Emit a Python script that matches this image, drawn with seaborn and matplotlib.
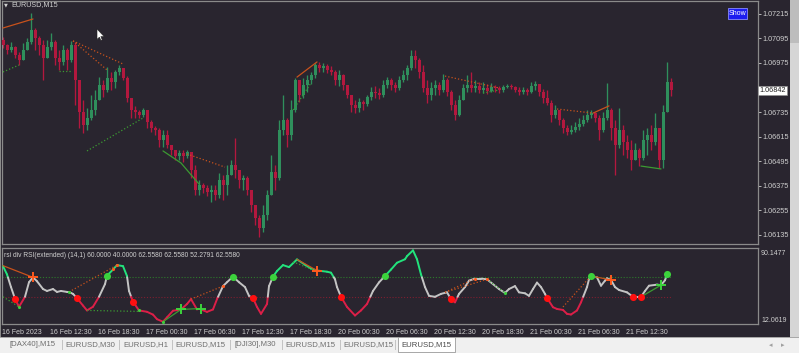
import numpy as np
import pandas as pd
import matplotlib
matplotlib.use("Agg")
import matplotlib.pyplot as plt
import seaborn as sns
from matplotlib.collections import LineCollection
from matplotlib.patches import Rectangle, Polygon
import matplotlib.transforms as mtransforms

# ---------------- data ----------------
symbol_title = "EURUSD,M15"
indicator_title = "rsi div RSI(extended) (14,1) 60.0000 40.0000 62.5580 62.5580 52.2791 62.5580"

first_open = 1.07087
closes = [1.07063, 1.07038, 1.07053, 1.07014, 1.06990, 1.07038, 1.07078, 1.07136, 1.07097, 1.07063,
          1.06999, 1.07053, 1.07078, 1.06999, 1.06980, 1.07038, 1.06990, 1.07063, 1.06892, 1.06735,
          1.06672, 1.06706, 1.06745, 1.06794, 1.06867, 1.06843, 1.06902, 1.06882, 1.06931, 1.06950,
          1.06902, 1.06804, 1.06745, 1.06735, 1.06721, 1.06745, 1.06686, 1.06657, 1.06647, 1.06598,
          1.06623, 1.06574, 1.06549, 1.06520, 1.06535, 1.06520, 1.06540, 1.06452, 1.06354, 1.06378,
          1.06364, 1.06344, 1.06354, 1.06329, 1.06403, 1.06378, 1.06427, 1.06476, 1.06452, 1.06403,
          1.06413, 1.06354, 1.06281, 1.06217, 1.06168, 1.06232, 1.06329, 1.06442, 1.06413, 1.06647,
          1.06696, 1.06623, 1.06745, 1.06892, 1.06818, 1.06867, 1.06892, 1.06916, 1.06965, 1.06950,
          1.06960, 1.06941, 1.06931, 1.06892, 1.06916, 1.06867, 1.06818, 1.06770, 1.06755, 1.06784,
          1.06774, 1.06809, 1.06833, 1.06828, 1.06818, 1.06867, 1.06892, 1.06867, 1.06853, 1.06892,
          1.06916, 1.06950, 1.07009, 1.06990, 1.06931, 1.06853, 1.06818, 1.06853, 1.06867, 1.06843,
          1.06892, 1.06833, 1.06770, 1.06721, 1.06794, 1.06853, 1.06867, 1.06853, 1.06862, 1.06843,
          1.06853, 1.06838, 1.06858, 1.06853, 1.06843, 1.06858, 1.06862, 1.06858, 1.06843, 1.06833,
          1.06843, 1.06833, 1.06862, 1.06872, 1.06833, 1.06804, 1.06779, 1.06721, 1.06745, 1.06696,
          1.06657, 1.06638, 1.06647, 1.06662, 1.06677, 1.06696, 1.06721, 1.06730, 1.06706, 1.06647,
          1.06706, 1.06745, 1.06657, 1.06574, 1.06647, 1.06589, 1.06549, 1.06501, 1.06549, 1.06510,
          1.06598, 1.06623, 1.06589, 1.06657, 1.06501, 1.06735, 1.06882, 1.06842]
highs = [1.07102, 1.07068, 1.07078, 1.07058, 1.07029, 1.07073, 1.07097, 1.07219, 1.07146, 1.07107,
         1.07087, 1.07087, 1.07122, 1.07087, 1.07038, 1.07063, 1.07048, 1.07083, 1.07078, 1.06892,
         1.06794, 1.06755, 1.06818, 1.06843, 1.06906, 1.06892, 1.06955, 1.06931, 1.06941, 1.06965,
         1.06950, 1.06911, 1.06770, 1.06765, 1.06745, 1.06755, 1.06735, 1.06696, 1.06667, 1.06657,
         1.06647, 1.06647, 1.06574, 1.06549, 1.06549, 1.06549, 1.06549, 1.06525, 1.06476, 1.06403,
         1.06388, 1.06378, 1.06378, 1.06378, 1.06437, 1.06427, 1.06476, 1.06501, 1.06608, 1.06452,
         1.06427, 1.06422, 1.06354, 1.06281, 1.06232, 1.06281, 1.06354, 1.06525, 1.06476, 1.06696,
         1.06818, 1.06706, 1.06794, 1.06902, 1.06892, 1.06902, 1.06916, 1.06931, 1.06975, 1.06980,
         1.06975, 1.06970, 1.06960, 1.06941, 1.06941, 1.06921, 1.06867, 1.06818, 1.06794, 1.06804,
         1.06794, 1.06818, 1.06858, 1.06862, 1.06853, 1.06892, 1.06906, 1.06902, 1.06882, 1.06911,
         1.06941, 1.06965, 1.07038, 1.07038, 1.06999, 1.06965, 1.06892, 1.06882, 1.06892, 1.06882,
         1.06921, 1.06902, 1.06843, 1.06794, 1.06818, 1.06872, 1.06916, 1.06931, 1.06892, 1.06882,
         1.06882, 1.06872, 1.06877, 1.06867, 1.06862, 1.06867, 1.06872, 1.06872, 1.06862, 1.06858,
         1.06858, 1.06853, 1.06882, 1.06887, 1.06872, 1.06848, 1.06843, 1.06794, 1.06770, 1.06745,
         1.06706, 1.06672, 1.06672, 1.06686, 1.06706, 1.06721, 1.06745, 1.06745, 1.06735, 1.06721,
         1.06735, 1.06877, 1.06755, 1.06696, 1.06755, 1.06672, 1.06623, 1.06598, 1.06584, 1.06559,
         1.06647, 1.06657, 1.06672, 1.06730, 1.06647, 1.06770, 1.06980, 1.06902]
lows = [1.07048, 1.07019, 1.07029, 1.06999, 1.06965, 1.06990, 1.07038, 1.07068, 1.07038, 1.07014,
        1.06892, 1.06999, 1.07038, 1.06965, 1.06941, 1.06965, 1.06941, 1.06980, 1.06770, 1.06657,
        1.06633, 1.06647, 1.06696, 1.06721, 1.06794, 1.06809, 1.06833, 1.06843, 1.06853, 1.06916,
        1.06892, 1.06784, 1.06706, 1.06706, 1.06706, 1.06711, 1.06657, 1.06638, 1.06623, 1.06564,
        1.06564, 1.06559, 1.06525, 1.06501, 1.06501, 1.06491, 1.06510, 1.06413, 1.06329, 1.06329,
        1.06339, 1.06325, 1.06295, 1.06305, 1.06315, 1.06305, 1.06329, 1.06427, 1.06413, 1.06364,
        1.06354, 1.06329, 1.06246, 1.06183, 1.06124, 1.06149, 1.06207, 1.06329, 1.06354, 1.06403,
        1.06623, 1.06564, 1.06598, 1.06735, 1.06784, 1.06804, 1.06833, 1.06872, 1.06902, 1.06931,
        1.06931, 1.06926, 1.06916, 1.06867, 1.06862, 1.06843, 1.06804, 1.06735, 1.06730, 1.06735,
        1.06745, 1.06765, 1.06794, 1.06804, 1.06799, 1.06809, 1.06853, 1.06843, 1.06833, 1.06843,
        1.06882, 1.06892, 1.06941, 1.06950, 1.06902, 1.06833, 1.06779, 1.06794, 1.06818, 1.06818,
        1.06833, 1.06814, 1.06745, 1.06696, 1.06716, 1.06794, 1.06833, 1.06833, 1.06833, 1.06828,
        1.06828, 1.06823, 1.06833, 1.06833, 1.06828, 1.06833, 1.06853, 1.06848, 1.06833, 1.06818,
        1.06823, 1.06818, 1.06828, 1.06843, 1.06814, 1.06779, 1.06770, 1.06686, 1.06706, 1.06672,
        1.06633, 1.06623, 1.06628, 1.06638, 1.06647, 1.06667, 1.06686, 1.06706, 1.06686, 1.06598,
        1.06638, 1.06696, 1.06598, 1.06427, 1.06559, 1.06525, 1.06510, 1.06452, 1.06501, 1.06471,
        1.06501, 1.06525, 1.06549, 1.06574, 1.06462, 1.06462, 1.06735, 1.06814]
bars_per_candle = 2

price_ticks = [1.07215, 1.07095, 1.06975, 1.06855, 1.06735, 1.06615, 1.06495, 1.06375, 1.06255, 1.06135]
hidden_tick = 1.06855  # covered by the current-price box in the reference
current_price = 1.06842
price_min, price_max = 1.06090, 1.07278

time_tick_bars = [0, 24, 48, 72, 96, 120, 144, 168, 192, 216, 240, 264, 288, 312]
time_labels = ["16 Feb 2023", "16 Feb 12:30", "16 Feb 18:30", "17 Feb 00:30", "17 Feb 06:30",
               "17 Feb 12:30", "17 Feb 18:30", "20 Feb 00:30", "20 Feb 06:30", "20 Feb 12:30",
               "20 Feb 18:30", "21 Feb 00:30", "21 Feb 06:30", "21 Feb 12:30"]

rsi_bar = [0, 2, 4, 6, 8, 11, 13, 15, 17, 20, 22, 25, 27, 29, 32, 33, 35, 37, 40, 42, 45, 48, 51, 52,
           55, 57, 60, 62, 63, 65, 68, 72, 75, 77, 80, 82, 85, 89, 92, 94, 97, 99, 102, 105, 107, 110,
           112, 115, 118, 121, 123, 125, 127, 129, 132, 133, 135, 137, 140, 143, 147, 151, 154, 157,
           162, 164, 166, 167, 169, 172, 176, 179, 182, 185, 188, 191, 194, 197, 201, 202, 205, 207,
           209, 211, 213, 216, 219, 222, 224, 226, 228, 231, 233, 236, 239, 242, 245, 248, 251, 253,
           256, 258, 261, 263, 265, 267, 269, 271, 272, 275, 277, 280, 282, 284, 287, 289, 292, 293,
           294, 297, 299, 301, 302, 304, 306, 308, 312, 315, 317, 319, 321, 323, 327, 329, 331, 332]
rsi_val = [71.5, 63, 50, 38, 29.7, 40, 55, 60, 56, 48, 46, 48, 45, 46, 45, 45, 43, 38.6, 31, 26, 29.8,
           40, 53, 61.7, 68, 72.6, 71.5, 61.3, 46, 35, 26, 24.6, 21.7, 17, 14.4, 18.9, 25.7, 27, 32.6,
           37.6, 27, 27, 24.5, 27, 37.6, 51, 55, 60.7, 55, 50, 41, 38.6, 29.6, 22.5, 32.6, 51, 60.7,
           66.5, 72.6, 70.5, 78.4, 73, 69, 67, 65.8, 64.8, 58, 50, 40, 29.6, 20.8, 26, 32.6, 46, 54.8,
           61.4, 68, 75, 78.6, 81.8, 87.7, 78.6, 63, 50, 41, 40, 43, 44.6, 37.6, 34.3, 43, 50, 56.6,
           58.7, 58.7, 58, 53, 48, 44, 48, 51, 44.6, 43.6, 41, 48, 54.6, 50, 43, 38.8, 29.3, 27.5,
           26.5, 22.5, 21.8, 26, 34.3, 50, 58, 61.4, 60, 51.4, 56.6, 59, 57.3, 50, 47, 44.6, 40, 40,
           40, 46, 51.4, 52.5, 52, 57, 63]
rsi_min, rsi_max = 12.0619, 90.1477
level_up, level_dn = 60.0, 40.0

red_dot_bar = [6, 37, 65, 125, 169, 224, 272, 315, 319]
red_dot_val = [38, 38.6, 35, 38.6, 40, 37.6, 38.8, 40, 40]
green_dot_bar = [52, 115, 135, 191, 294, 332]
green_dot_val = [61.7, 60.7, 60.7, 61.4, 61.4, 63]
bear_cross_bar = [15, 157, 304]
bear_cross_val = [60, 67, 57.3]
bull_cross_bar = [89, 99, 329]
bull_cross_val = [27, 27, 52]
small_bull_bar = [8, 33, 68, 251, 80]
small_bull_val = [29.7, 45, 26, 44, 14.4]
small_bear_bar = [57, 55, 110, 236, 242]
small_bear_val = [72.6, 69, 51, 58.7, 58]

# divergence lines: (side, style, bars, values)
rsi_div_lines = [
    ("bear", "-", [0, 15], [72, 60]),
    ("bull", ":", [0, 8], [40, 29.7]),
    ("bear", ":", [33, 57], [45, 72.6]),
    ("bull", ":", [42, 68], [26, 25]),
    ("bull", "-", [80, 89, 99], [14.4, 27, 28]),
    ("bear", ":", [94, 110], [37.6, 51]),
    ("bull", ":", [145, 157], [76, 66]),
    ("bear", "-", [147, 157], [78.4, 67]),
    ("bear", ":", [221, 236], [44.6, 58.7]),
    ("bear", ":", [221, 242], [44.6, 58]),
    ("bull", ":", [242, 251], [58, 44]),
    ("bear", ":", [280, 294], [29.6, 61.4]),
    ("bear", "-", [294, 304], [61.4, 57.3]),
    ("bull", "-", [319, 329], [40, 52]),
]
price_div_lines = [
    ("bear", "-", [0, 15], [1.07146, 1.07190]),
    ("bull", ":", [0, 8], [1.06931, 1.06965]),
    ("bear", ":", [35, 60], [1.07083, 1.06970]),
    ("bear", ":", [35, 52], [1.07083, 1.06941]),
    ("bull", ":", [28, 34], [1.06936, 1.06936]),
    ("bull", ":", [42, 70], [1.06545, 1.06706]),
    ("bull", "-", [80, 89, 98], [1.06545, 1.06486, 1.06383]),
    ("bear", ":", [92, 111], [1.06530, 1.06466]),
    ("bear", "-", [147, 157], [1.06906, 1.06980]),
    ("bull", ":", [145, 154], [1.06745, 1.06877]),
    ("bear", ":", [221, 248], [1.06911, 1.06853]),
    ("bull", ":", [240, 248], [1.06828, 1.06843]),
    ("bear", ":", [277, 295], [1.06750, 1.06730]),
    ("bear", "-", [295, 303], [1.06730, 1.06765]),
    ("bull", "-", [319, 329], [1.06471, 1.06457]),
]

tab_labels = ["[DAX40],M15", "EURUSD,M30", "EURUSD,H1", "EURUSD,M15", "[DJI30],M30",
              "EURUSD,M15", "EURUSD,M15", "EURUSD,M15"]

# ---------------- style ----------------
BG = "#29252f"
FRAME = "#8a8a8a"
TXT = "#cfcfcf"
BULL = "#2f8f5c"
BEAR = "#b3183e"
DIV = {"bear": "#c8521c", "bull": "#3c9a32"}
RSI_UP, RSI_MID, RSI_DN = "#22e37c", "#c4c4c4", "#dc1f48"

sns.set_theme(style="dark")
plt.rcParams["font.family"] = ["Liberation Sans Narrow", "Liberation Sans", "DejaVu Sans"]
plt.rcParams["axes.unicode_minus"] = False

W, H = 799, 353
fig = plt.figure(figsize=(W / 100, H / 100), dpi=100, facecolor=BG)


def rect(x0, y0, x1, y1):
    return [x0 / W, 1 - y1 / H, (x1 - x0) / W, (y1 - y0) / H]


def fig_rect(x0, y0, x1, y1, **kw):
    fig.patches.append(Rectangle((x0 / W, 1 - y1 / H), (x1 - x0) / W, (y1 - y0) / H,
                                 transform=fig.transFigure, **kw))


XMIN, XMAX = -0.5, 377.5

# ---------------- main price pane ----------------
ax = fig.add_axes(rect(2, 1, 758, 244))
ax.set_facecolor(BG)
ax.set_xlim(XMIN, XMAX)
ax.set_ylim(price_min, price_max)

c = np.array(closes)
o = np.array([first_open] + closes[:-1])
hi = np.maximum.reduce([np.array(highs), o, c])
lo = np.minimum.reduce([np.array(lows), o, c])
xb = np.arange(len(c)) * bars_per_candle
up = c >= o
cols = np.where(up, BULL, BEAR)
ax.vlines(xb, lo, hi, colors=cols, linewidth=0.95, zorder=2)
body = np.maximum(np.abs(c - o), 0.00004)
ax.bar(xb, body, bottom=np.minimum(o, c), width=1.5, color=cols, linewidth=0, zorder=3)

for side, ls, bx, pv in price_div_lines:
    ax.plot(bx, pv, color=DIV[side], lw=0.9, ls=ls, zorder=4)

ax.set_xticks([])
ax.yaxis.tick_right()
ax.set_yticks(price_ticks)
ax.set_yticklabels(["" if p == hidden_tick else f"{p:.5f}" for p in price_ticks])
ax.tick_params(axis="y", length=2, width=0.6, color=TXT, labelcolor=TXT, labelsize=5.2, pad=1.5)
for s in ax.spines.values():
    s.set_color(FRAME)
    s.set_linewidth(0.9)
ax.grid(False)

trans = mtransforms.blended_transform_factory(ax.transAxes, ax.transData)
ax.text(1.0015, current_price, f"{current_price:.5f}", transform=trans, fontsize=5.2, color="#202020",
        va="center", ha="left",
        bbox=dict(boxstyle="square,pad=0.15", fc="white", ec="#909090", lw=0.5), zorder=10,
        clip_on=False)

# ---------------- RSI pane ----------------
ax2 = fig.add_axes(rect(2, 248, 758, 324))
ax2.set_facecolor(BG)
ax2.set_xlim(XMIN, XMAX)
ax2.set_ylim(rsi_min, rsi_max)
last_bar = rsi_bar[-1] + 2
ax2.hlines(level_up, XMIN, last_bar, colors="#2c7a2c", linestyles=(0, (1, 1.6)), lw=0.8, zorder=1)
ax2.hlines(level_dn, XMIN, last_bar, colors="#7e1f30", linestyles=(0, (1, 1.6)), lw=0.8, zorder=1)

segs, scol = [], []
for i in range(len(rsi_bar) - 1):
    x0, y0, x1, y1 = rsi_bar[i], rsi_val[i], rsi_bar[i + 1], rsi_val[i + 1]
    pts = [(x0, y0)]
    cuts = []
    for thr in (level_dn, level_up):
        if (y0 - thr) * (y1 - thr) < 0:
            t = (thr - y0) / (y1 - y0)
            cuts.append((t, (x0 + t * (x1 - x0), thr)))
    pts += [p for _, p in sorted(cuts)]
    pts.append((x1, y1))
    for a, b in zip(pts[:-1], pts[1:]):
        m = (a[1] + b[1]) / 2
        segs.append([a, b])
        scol.append(RSI_UP if m > level_up else (RSI_DN if m < level_dn else RSI_MID))
ax2.add_collection(LineCollection(segs, colors=scol, linewidths=1.4, zorder=3,
                                  capstyle="round", joinstyle="round"))

for side, ls, bx, pv in rsi_div_lines:
    ax2.plot(bx, pv, color=DIV[side], lw=0.9, ls=ls, zorder=4)

sns.scatterplot(x=small_bull_bar, y=small_bull_val, ax=ax2, color="#3ccf3c", s=5, linewidth=0, zorder=5)
sns.scatterplot(x=small_bear_bar, y=small_bear_val, ax=ax2, color="#ff5a1e", s=5, linewidth=0, zorder=5)
sns.scatterplot(x=red_dot_bar, y=red_dot_val, ax=ax2, color="#ff1010", s=26, linewidth=0, zorder=6)
sns.scatterplot(x=green_dot_bar, y=green_dot_val, ax=ax2, color="#3cd23c", s=26, linewidth=0, zorder=6)
sns.scatterplot(x=bear_cross_bar, y=bear_cross_val, ax=ax2, color="#ff5a1e", marker="+", s=42,
                linewidth=1.4, zorder=6)
sns.scatterplot(x=bull_cross_bar, y=bull_cross_val, ax=ax2, color="#3cd23c", marker="+", s=42,
                linewidth=1.4, zorder=6)

ax2.set_yticks([])
ax2.set_xticks([b - 0.5 for b in time_tick_bars])
ax2.set_xticklabels(time_labels)
ax2.tick_params(axis="x", length=2.5, width=0.6, color=TXT, labelcolor=TXT, labelsize=5.0, pad=1.2)
for lbl in ax2.get_xticklabels():
    lbl.set_horizontalalignment("left")
for s in ax2.spines.values():
    s.set_color(FRAME)
    s.set_linewidth(0.9)
ax2.grid(False)
ax2.set_xlabel("")
ax2.set_ylabel("")
ax2.text(0.003, 0.95, indicator_title, transform=ax2.transAxes, fontsize=4.8, color=TXT,
         va="top", ha="left")
ax2.text(1.004, 0.97, f"{rsi_max:.4f}", transform=ax2.transAxes, fontsize=5.0, color=TXT,
         va="top", ha="left", clip_on=False)
ax2.text(1.004, 0.0, f"{rsi_min:.4f}", transform=ax2.transAxes, fontsize=5.0, color=TXT,
         va="bottom", ha="left", clip_on=False)

# ---------------- decorations ----------------
fig.text(4 / W, 1 - 5 / H, "\u25BC", fontsize=3.6, color=TXT, va="center", ha="left",
         family=["DejaVu Sans"])
fig.text(11 / W, 1 - 5 / H, symbol_title, fontsize=5.2, color=TXT, va="center", ha="left")

# Show button
fig_rect(728, 8, 747, 19, facecolor="#1c1cf0", edgecolor="#8a8aff", lw=0.6)
fig.text(737.5 / W, 1 - 13.5 / H, "Show", fontsize=5.0, color="white", va="center", ha="center")

# mouse cursor
cur = [(97, 29), (97, 39.5), (99.4, 37.2), (100.9, 40.4), (102.3, 39.8), (100.8, 36.6), (104.2, 36.6)]
fig.patches.append(Polygon([(x / W, 1 - y / H) for x, y in cur], closed=True, transform=fig.transFigure,
                           facecolor="white", edgecolor="#202020", lw=0.4, zorder=20))

# right scrollbar strip
fig_rect(790, 0, 799, 337, facecolor="#d6d6d6", edgecolor="none")
fig_rect(790, 0, 799, 43, facecolor="#bdbdbd", edgecolor="none")
# outer left frame
fig_rect(0, 0, 1.2, 337, facecolor="#8a8a8a", edgecolor="none")

# tab bar
fig_rect(0, 337, 799, 353, facecolor="#f0f0f0", edgecolor="none")
fig_rect(0, 336.5, 799, 337.5, facecolor="#a8a8a8", edgecolor="none")
tab_centers = [32, 90, 146, 200, 255, 310, 368, 426]
tab_seps = [62, 119, 172, 230, 282, 340, 395]
for sx in tab_seps:
    fig_rect(sx, 340, sx + 0.8, 350, facecolor="#c4c4c4", edgecolor="none")
fig_rect(398, 337, 455, 352, facecolor="white", edgecolor="#9a9a9a", lw=0.6)
for i, (cx, lab) in enumerate(zip(tab_centers, tab_labels)):
    fig.text(cx / W, 1 - 345 / H, lab, fontsize=5.6, color="#4a4a4a" if i == 7 else "#6e6e6e",
             va="center", ha="center", family=["Liberation Sans", "DejaVu Sans"])
fig.text(771 / W, 1 - 345 / H, "\u25C2", fontsize=5, color="#a0a0a0", va="center", ha="center",
         family=["DejaVu Sans"])
fig.text(783 / W, 1 - 345 / H, "\u25B8", fontsize=5, color="#a0a0a0", va="center", ha="center",
         family=["DejaVu Sans"])

fig.savefig("out.png", dpi=100, facecolor=BG)
